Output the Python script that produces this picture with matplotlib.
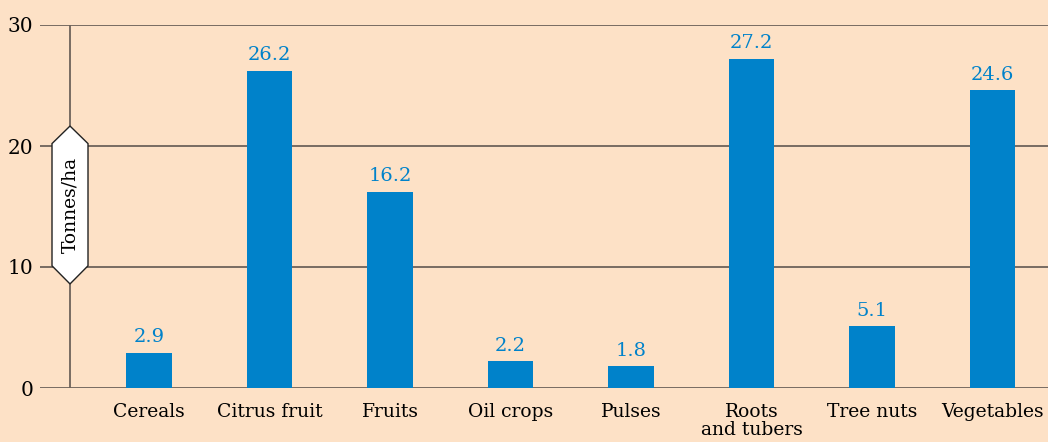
import matplotlib.pyplot as plt
from matplotlib.patches import Polygon

categories = ['Cereals', 'Citrus fruit', 'Fruits', 'Oil crops', 'Pulses',
              'Roots\nand tubers', 'Tree nuts', 'Vegetables']
yields = [2.9, 26.2, 16.2, 2.2, 1.8, 27.2, 5.1, 24.6]
yticks = [0, 10, 20, 30]

bg = '#fde1c6'
blue = '#0082ca'
gridc = '#6e625a'

plt.rcParams['font.family'] = ['DejaVu Serif']

fig = plt.figure(figsize=(10.48, 4.42), dpi=100)
fig.patch.set_facecolor(bg)
ax = fig.add_axes([40 / 1048, 1 - 388 / 442, 1008 / 1048, 363 / 442])
ax.set_facecolor(bg)

x = list(range(len(categories)))
ax.bar(x, yields, width=0.38, color=blue, zorder=3)
for xi, v in zip(x, yields):
    ax.text(xi, v + 0.55, f'{v}', ha='center', va='bottom', color=blue, fontsize=14)

ax.set_xlim(-0.905, 7.46)
ax.set_ylim(0, 30)
for t in yticks:
    ax.axhline(t, color=gridc, lw=1.3, zorder=1)
for s in ax.spines.values():
    s.set_visible(False)

# vertical axis line
ax.axvline(-0.656, color=gridc, lw=1.3, zorder=2)

ax.set_yticks(yticks)
ax.set_yticklabels([str(t) for t in yticks], fontsize=14.5)
ax.tick_params(axis='y', length=0, pad=5)
ax.set_xticks(x)
ax.set_xticklabels(categories, fontsize=13.5, linespacing=0.95, va='top')
ax.tick_params(axis='x', length=0, pad=11)

# hexagon label box on the axis
xc = -0.656
hw = 18 / 120.5
ytop, ysh1, ysh2, ybot = 21.65, 20.2, 10.1, 8.6
hexpts = [(xc, ytop), (xc + hw, ysh1), (xc + hw, ysh2), (xc, ybot),
          (xc - hw, ysh2), (xc - hw, ysh1)]
ax.add_patch(Polygon(hexpts, closed=True, facecolor='white', edgecolor='#222222',
                     lw=1.0, zorder=4, clip_on=False))
ax.text(xc, (ytop + ybot) / 2, 'Tonnes/ha', rotation=90, ha='center', va='center',
        fontsize=13.5, zorder=5)

fig.savefig('out.png', dpi=100, facecolor=bg)
